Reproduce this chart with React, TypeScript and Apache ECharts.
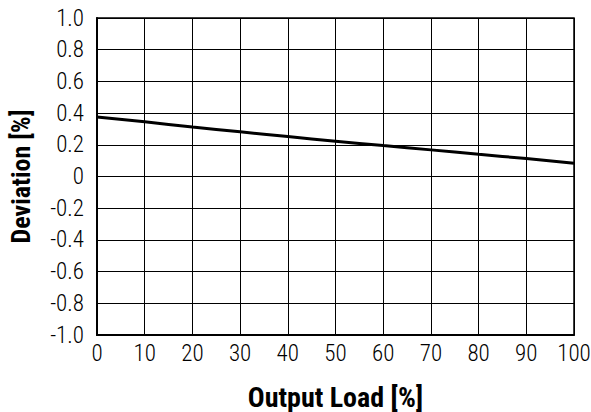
import React, { useEffect, useRef } from "react";
import * as echarts from "echarts";

const loadPct = [0, 10, 20, 30, 40, 50, 60, 70, 80, 90, 100];
const deviation = [0.375, 0.345, 0.312, 0.282, 0.252, 0.223, 0.195, 0.168, 0.14, 0.113, 0.084];
const yTicks = ["-1.0", "-0.8", "-0.6", "-0.4", "-0.2", "0", "0.2", "0.4", "0.6", "0.8", "1.0"];

const FONT = "'Roboto Condensed', 'Arial Narrow', 'Liberation Sans Narrow', Roboto, sans-serif";

export default function App() {
  const ref = useRef<HTMLDivElement>(null);
  useEffect(() => {
    if (!ref.current) return;
    const chart = echarts.init(ref.current, undefined, { renderer: "svg" });
    const yMap: Record<string, string> = {};
    yTicks.forEach((t) => (yMap[parseFloat(t).toFixed(1)] = t));
    chart.setOption({
      animation: false,
      backgroundColor: "#fff",
      grid: {
        left: 97,
        right: 17,
        top: 18,
        bottom: 77,
        containLabel: false,
        outerBoundsMode: "none",
        show: true,
        borderColor: "#000",
        borderWidth: 1.5,
      },
      xAxis: {
        type: "value",
        min: 0,
        max: 100,
        interval: 10,
        name: "Output Load [%]",
        nameLocation: "middle",
        nameGap: 48,
        nameTextStyle: { fontFamily: FONT, fontSize: 28, fontWeight: "bold", color: "#000" },
        axisLine: { show: true, onZero: false, lineStyle: { color: "#000", width: 2 } },
        axisTick: { show: false },
        axisLabel: { fontFamily: FONT, fontSize: 23, fontWeight: 300, color: "#000", margin: 7 },
        splitLine: { show: true, lineStyle: { color: "#000", width: 1 } },
      },
      yAxis: {
        type: "value",
        min: -1,
        max: 1,
        interval: 0.2,
        name: "Deviation [%]",
        nameLocation: "middle",
        nameGap: 63,
        nameTextStyle: { fontFamily: FONT, fontSize: 26, fontWeight: "bold", color: "#000" },
        axisLine: { show: true, onZero: false, lineStyle: { color: "#000", width: 2 } },
        axisTick: { show: false },
        axisLabel: {
          fontFamily: FONT,
          fontSize: 23,
          fontWeight: 300,
          color: "#000",
          margin: 13,
          formatter: (v: number) => {
            const k = (Math.round(v * 10) / 10).toFixed(1);
            return yMap[k === "-0.0" ? "0.0" : k] ?? k;
          },
        },
        splitLine: { show: true, lineStyle: { color: "#000", width: 1 } },
      },
      series: [
        {
          type: "line",
          data: loadPct.map((x, i) => [x, deviation[i]]),
          showSymbol: false,
          smooth: true,
          lineStyle: { color: "#000", width: 3 },
        },
      ],
    });
    return () => chart.dispose();
  }, []);
  return <div ref={ref} style={{ width: 591, height: 412, position: "absolute", left: 0, top: 0 }} />;
}
